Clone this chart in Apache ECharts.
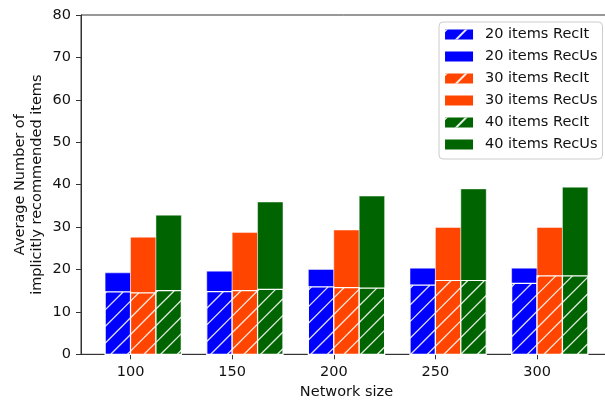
<!DOCTYPE html>
<html>
<head>
<meta charset="utf-8">
<script src="https://cdn.jsdelivr.net/npm/echarts@6/dist/echarts.min.js"></script>
<style>
html,body{margin:0;padding:0;background:#fff;}
#chart{width:605px;height:403px;}
</style>
</head>
<body>
<div id="chart"></div>
<script>
// ---- data ----
var networkSizes = [100, 150, 200, 250, 300];
var xTickValues = [100, 150, 200, 250, 300];
var yTickValues = [0, 10, 20, 30, 40, 50, 60, 70, 80];

var recIt20 = [14.7, 14.8, 15.9, 16.3, 16.7];
var recUs20 = [19.2, 19.6, 20.0, 20.3, 20.3];
var recIt30 = [14.5, 15.0, 15.7, 17.4, 18.5];
var recUs30 = [27.6, 28.7, 29.3, 29.9, 29.9];
var recIt40 = [15.0, 15.3, 15.6, 17.4, 18.5];
var recUs40 = [32.8, 35.9, 37.3, 39.0, 39.4];

var seriesNames = ['20 items RecIt', '20 items RecUs', '30 items RecIt', '30 items RecUs', '40 items RecIt', '40 items RecUs'];

// ---- style ----
var FONT = 'DejaVu Sans';
var FS = 14.5;
var BAR_W = 12.5;           // bar width in data units
var HATCH_STEP = 100 / 6;   // px
var HATCH_PHASE = 15;
var COLORS = ['#0000ff', '#ff4500', '#006400'];

function makeRender(k, hatched) {
  return function (params, api) {
    var x = api.value(0), v = api.value(1);
    var p0 = api.coord([x + (k - 1) * BAR_W, v]);
    var p1 = api.coord([x + k * BAR_W, 0]);
    var x0 = p0[0], x1 = p1[0], yt = p0[1], yb = p1[1];
    var color = COLORS[k];
    var children = [{
      type: 'rect',
      shape: { x: x0, y: yt, width: x1 - x0, height: yb - yt },
      style: { fill: color, stroke: hatched ? null : 'rgba(255,255,255,0.45)', lineWidth: 1 }
    }];
    if (hatched) {
      var cStart = Math.ceil((x0 + yt - HATCH_PHASE) / HATCH_STEP) * HATCH_STEP + HATCH_PHASE;
      for (var c = cStart; c < x1 + yb; c += HATCH_STEP) {
        var xa = Math.max(x0, c - yb), xb = Math.min(x1, c - yt);
        if (xb <= xa) continue;
        children.push({
          type: 'line',
          shape: { x1: xa, y1: c - xa, x2: xb, y2: c - xb },
          style: { stroke: 'rgba(255,255,255,0.88)', lineWidth: 1.3 }
        });
      }
      children.push({
        type: 'rect',
        shape: { x: x0, y: yt, width: x1 - x0, height: yb - yt },
        style: { fill: null, stroke: '#ffffff', lineWidth: 1.2 }
      });
    }
    return { type: 'group', children: children };
  };
}

function mkSeries(name, k, hatched, values) {
  return {
    name: name,
    type: 'custom',
    z: hatched ? 3 : 2,
    silent: true,
    itemStyle: { color: COLORS[k] },
    encode: { x: 0, y: 1 },
    data: networkSizes.map(function (s, i) { return [s, values[i]]; }),
    renderItem: makeRender(k, hatched)
  };
}

var hatchDecal = {
  symbol: 'rect',
  dashArrayX: [1, 0],
  dashArrayY: [1.5, 12],
  rotation: -Math.PI / 4,
  color: 'rgba(255,255,255,0.9)'
};

var chart = echarts.init(document.getElementById('chart'), null, { renderer: 'canvas' });
chart.setOption({
  animation: false,
  backgroundColor: '#fff',
  textStyle: { fontFamily: FONT },
  grid: {
    left: 81, right: -7, top: 15, bottom: 48.7,
    show: true, borderColor: '#333', borderWidth: 1,
    containLabel: false, outerBoundsMode: 'none'
  },
  xAxis: {
    type: 'value',
    min: 75.625, max: 336.875,
    name: 'Network size',
    nameLocation: 'middle',
    nameGap: 29,
    nameMoveOverlap: false,
    nameTextStyle: { fontFamily: FONT, fontSize: FS, color: '#111', lineHeight: 17 },
    axisLine: { show: true, lineStyle: { color: '#333', width: 1 } },
    axisTick: { show: true, length: 5, lineStyle: { color: '#333' }, customValues: xTickValues },
    axisLabel: { fontFamily: FONT, fontSize: FS, color: '#111', margin: 10, lineHeight: 16, customValues: xTickValues },
    splitLine: { show: false }
  },
  yAxis: {
    type: 'value',
    min: yTickValues[0], max: yTickValues[yTickValues.length - 1], interval: 10,
    name: 'Average Number of\nimplicitly recommended items',
    nameLocation: 'middle',
    nameRotate: 90,
    nameGap: 35.5,
    nameMoveOverlap: false,
    nameTextStyle: { fontFamily: FONT, fontSize: FS, color: '#111', lineHeight: 17, align: 'center' },
    axisLine: { show: true, lineStyle: { color: '#333', width: 1 } },
    axisTick: { show: true, length: 5, lineStyle: { color: '#333' } },
    axisLabel: { fontFamily: FONT, fontSize: FS, color: '#111', margin: 10 },
    splitLine: { show: false }
  },
  legend: {
    orient: 'vertical',
    right: 2.5, top: 22,
    padding: [5, 5, 7, 6],
    itemWidth: 28, itemHeight: 10, itemGap: 7,
    backgroundColor: 'rgba(255,255,255,0.8)',
    borderColor: '#cccccc', borderWidth: 1, borderRadius: 4,
    selectedMode: false,
    textStyle: { fontFamily: FONT, fontSize: FS, color: '#111', lineHeight: 14, padding: [0, 0, 0, 7] },
    data: seriesNames.map(function (n, i) {
      var k = Math.floor(i / 2);
      var hatched = (i % 2 === 0);
      var it = { name: n, icon: 'rect', itemStyle: { color: COLORS[k], borderWidth: 0 } };
      if (hatched) it.itemStyle.decal = hatchDecal;
      return it;
    })
  },
  series: [
    mkSeries(seriesNames[1], 0, false, recUs20),
    mkSeries(seriesNames[3], 1, false, recUs30),
    mkSeries(seriesNames[5], 2, false, recUs40),
    mkSeries(seriesNames[0], 0, true, recIt20),
    mkSeries(seriesNames[2], 1, true, recIt30),
    mkSeries(seriesNames[4], 2, true, recIt40)
  ]
});
</script>
</body>
</html>
